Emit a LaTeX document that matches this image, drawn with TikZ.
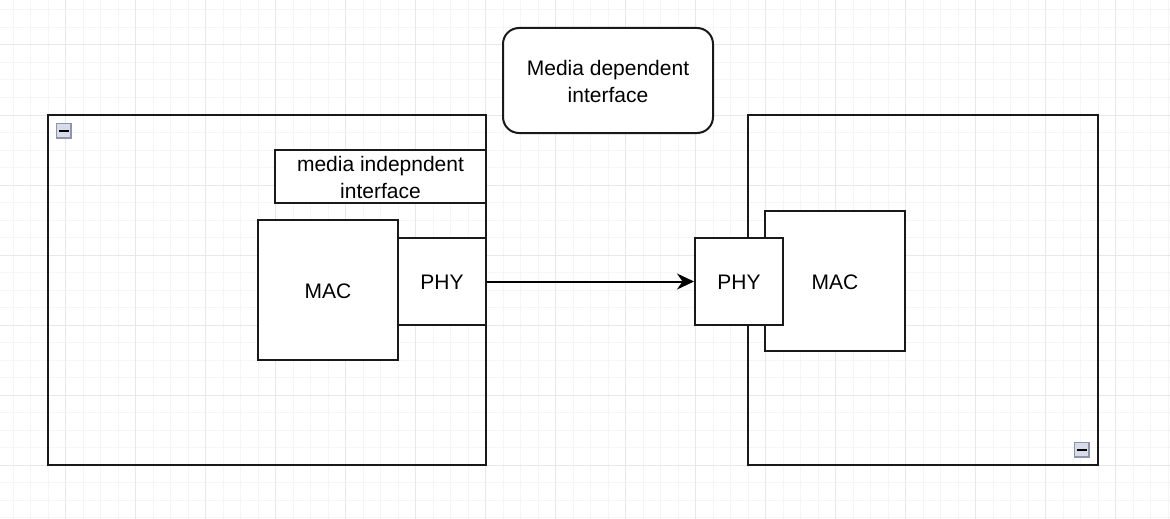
\documentclass[tikz,border=0pt]{standalone}
\usepackage{fontspec}
\setmainfont{Liberation Sans}
\usetikzlibrary{arrows.meta}
\definecolor{iconfill}{HTML}{D8DCE8}
\definecolor{iconedge}{HTML}{8E94AC}
\begin{document}
\begin{tikzpicture}[x=1pt,y=-1pt,
  box/.style={draw=black!90, line width=2pt, fill=white},
  frame/.style={draw=black!90, line width=2pt},
  lbl/.style={font=\fontsize{21}{27}\selectfont, align=center, text=black},
  icon/.style={draw=iconedge, fill=iconfill, line width=1.6pt},
  conn/.style={draw=black, line width=2pt, -{Stealth[length=17pt,width=16pt]}}]
\useasboundingbox (0,0) rectangle (1170,519);
\fill[white] (0,0) rectangle (1170,519);
% grid
\foreach \i in {0,...,67} {
  \draw[black!4, line width=1pt] ({13+17.5*\i},0) -- ({13+17.5*\i},519);
}
\foreach \i in {0,...,30} {
  \draw[black!4, line width=1pt] (0,{10+17.5*\i}) -- (1170,{10+17.5*\i});
}
\foreach \i in {0,...,16} {
  \draw[black!9, line width=1pt] ({65+70*\i},0) -- ({65+70*\i},519);
}
\foreach \i in {0,...,7} {
  \draw[black!9, line width=1pt] (0,{45+70*\i}) -- (1170,{45+70*\i});
}
% containers
\draw[frame] (48,115) rectangle (486,465);
\draw[frame] (748,115) rectangle (1098,465);
% collapse icons
\draw[icon] (56.5,123.5) rectangle (71,138);
\draw[black, line width=2.2pt] (59,130.75) -- (68.5,130.75);
\draw[icon] (1074.5,442.5) rectangle (1089,457);
\draw[black, line width=2.2pt] (1077,449.75) -- (1086.5,449.75);
% top label
\draw[box, rounded corners=16pt] (503,28) rectangle (713,133);
\node[lbl] (mdi) at (608,81) {Media dependent\\interface};
% media independent interface
\draw[box] (275,150) rectangle (486,203);
\node[lbl] (mii) at (380.5,177.5) {media indepndent\\interface};
% left
\node[box, minimum width=140pt, minimum height=140pt, inner sep=0pt] (macL) at (328,290) {};
\node[lbl] at ([yshift=-1.5pt]macL.center) {MAC};
\node[box, minimum width=88pt, minimum height=87pt, inner sep=0pt] (phyL) at (442,281.5) {};
\node[lbl] at ([yshift=-0.5pt]phyL.center) {PHY};
% right
\node[box, minimum width=140pt, minimum height=140pt, inner sep=0pt] (macR) at (835,281) {};
\node[lbl] at ([yshift=-1pt]macR.center) {MAC};
\node[box, minimum width=88pt, minimum height=87pt, inner sep=0pt] (phyR) at (739,281.5) {};
\node[lbl] at ([yshift=-0.5pt]phyR.center) {PHY};
% connector
\draw[conn] (phyL.east) -- (phyR.west);
\end{tikzpicture}
\end{document}
